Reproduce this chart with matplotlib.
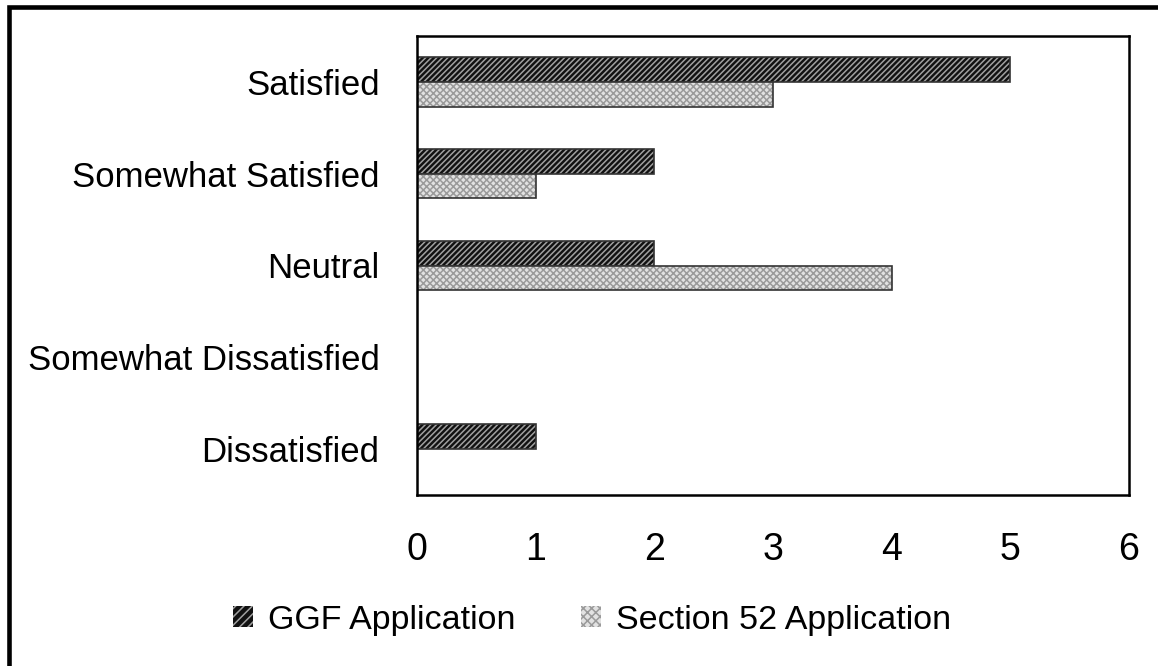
import matplotlib
matplotlib.use('Agg')
import matplotlib.pyplot as plt
from matplotlib.patches import Patch, Rectangle
import numpy as np

categories = ['Satisfied', 'Somewhat Satisfied', 'Neutral',
              'Somewhat Dissatisfied', 'Dissatisfied']
ggf = [5, 2, 2, 0, 1]
section52 = [3, 1, 4, 0, 0]
series_names = ['GGF Application', 'Section 52 Application']
xticks = [0, 1, 2, 3, 4, 5, 6]

plt.rcParams['font.family'] = ['Liberation Sans', 'DejaVu Sans']
plt.rcParams['hatch.linewidth'] = 1.1

fig = plt.figure(figsize=(11.58, 6.66), dpi=100)
ax = fig.add_axes([417 / 1158, 1 - 495 / 666, (1129 - 417) / 1158, (495 - 36) / 666])

y = np.arange(len(categories))
h = 0.27

styles = [
  dict(face='#111111', hatch_col='#a0a0a0', hatch='//////'),
  dict(face='#e2e2e2', hatch_col='#9a9a9a', hatch='xxxxx'),
]

for vals, off, st in [(ggf, -h / 2, styles[0]), (section52, h / 2, styles[1])]:
  ax.barh(y + off, vals, height=h, color=st['face'], edgecolor=st['hatch_col'],
          hatch=st['hatch'], linewidth=0)
  ax.barh(y + off, vals, height=h, fill=False, edgecolor='#333333', linewidth=1.2)

ax.set_ylim(len(categories) - 0.5, -0.5)
ax.set_xlim(0, 6)
ax.set_yticks(y)
ax.set_yticklabels(categories, fontsize=25)
ax.set_xticks(xticks)
ax.set_xticklabels([str(t) for t in xticks], fontsize=27)
ax.tick_params(axis='both', length=0)
ax.tick_params(axis='y', pad=27)
ax.tick_params(axis='x', pad=27)
for s in ax.spines.values():
  s.set_linewidth(1.8)
  s.set_color('black')

handles = [
  Patch(facecolor=styles[0]['face'], edgecolor=styles[0]['hatch_col'], hatch=styles[0]['hatch'][:4], linewidth=0),
  Patch(facecolor=styles[1]['face'], edgecolor=styles[1]['hatch_col'], hatch=styles[1]['hatch'][:4], linewidth=0),
]
fig.legend(handles, series_names, loc='center', bbox_to_anchor=(592 / 1158, 1 - 620 / 666),
           ncol=2, frameon=False, fontsize=24.5, handlelength=0.6, handleheight=0.6,
           handletextpad=0.44, columnspacing=1.9)

fig.patches.append(Rectangle((8.5 / 1158, -0.05), 1.1, 1 - 6.5 / 666 + 0.05,
                             transform=fig.transFigure, fill=False,
                             edgecolor='black', linewidth=3.3, clip_on=False))

fig.savefig('out.png', dpi=100)
